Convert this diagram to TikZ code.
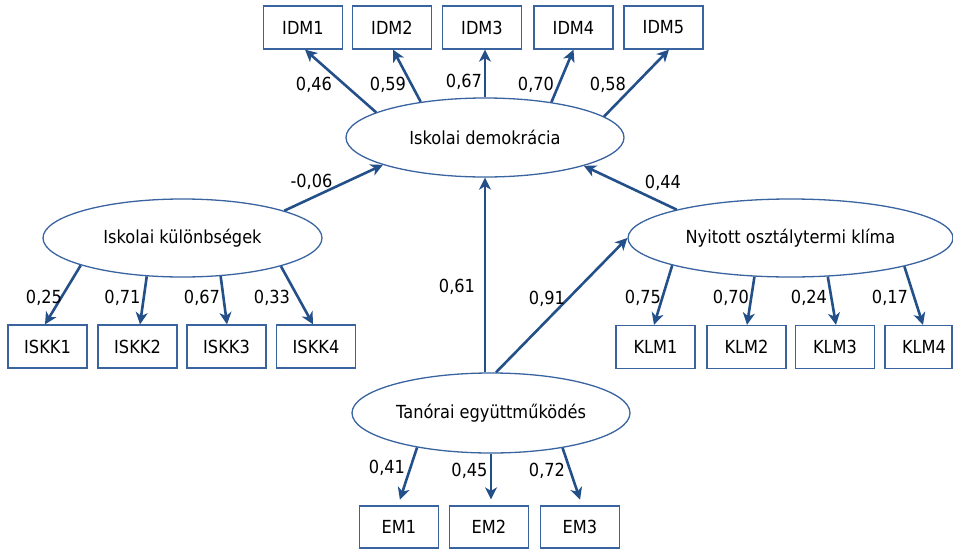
\documentclass[tikz,border=0pt]{standalone}
\usepackage{fontspec}
\setmainfont[FakeStretch=0.9]{DejaVu Sans}
\usetikzlibrary{arrows.meta,shapes.geometric}
\definecolor{arrblue}{HTML}{24508A}
\definecolor{boxblue}{HTML}{3A64A0}
\begin{document}
\begin{tikzpicture}[x=1pt,y=-1pt,
  font=\fontsize{18}{21}\selectfont,
  obsbox/.style={draw=boxblue,line width=1.3pt,minimum width=79pt,minimum height=43pt,inner sep=0pt,fill=white},
  latent/.style={ellipse,draw=boxblue,line width=1.3pt,inner sep=0pt,fill=white},
  path/.style={draw=arrblue,line width=2.6pt,-{Stealth[length=12pt,width=12pt,inset=3.5pt]}},
  coef/.style={inner sep=0pt,text height=13.1pt,text depth=0pt}]
\useasboundingbox (0,0) rectangle (953,549);

% latent variables
\node[latent,minimum width=278pt,minimum height=79pt] (idm) at (485,137.5) {Iskolai demokrácia};
\node[latent,minimum width=279pt,minimum height=78pt] (ik) at (182.5,238) {Iskolai különbségek};
\node[latent,minimum width=325pt,minimum height=78pt] (ny) at (790.5,238) {Nyitott osztálytermi klíma};
\node[latent,minimum width=278pt,minimum height=80pt] (tan) at (491,413) {Tanórai együttműködés};

% observed variables
\node[obsbox] (idm1) at (303,27.5) {IDM1};
\node[obsbox] (idm2) at (392,27.5) {IDM2};
\node[obsbox] (idm3) at (482,27.5) {IDM3};
\node[obsbox] (idm4) at (573.5,27.5) {IDM4};
\node[obsbox] (idm5) at (663.5,27.5) {IDM5};

\node[obsbox] (iskk1) at (47.5,346.5) {ISKK1};
\node[obsbox] (iskk2) at (137.5,346.5) {ISKK2};
\node[obsbox] (iskk3) at (226.5,346.5) {ISKK3};
\node[obsbox] (iskk4) at (316,346.5) {ISKK4};

\node[obsbox] (klm1) at (655.5,347) {KLM1};
\node[obsbox] (klm2) at (746.5,347) {KLM2};
\node[obsbox] (klm3) at (835,347) {KLM3};
\node[obsbox,minimum width=67pt] (klm4) at (918.5,347) {\hspace*{11pt}KLM4};

\node[obsbox,minimum height=42pt] (em1) at (399,527) {EM1};
\node[obsbox,minimum height=42pt] (em2) at (489,527) {EM2};
\node[obsbox,minimum height=42pt] (em3) at (580,527) {EM3};

% loadings: Iskolai demokrácia
\draw[path] (idm.167) -- ([xshift=2pt]idm1.south);
\draw[path] (idm.151) -- ([xshift=1pt]idm2.south);
\draw[path] (idm.north) -- (idm.north |- idm3.south);
\draw[path] (idm.28) -- (idm4.south);
\draw[path] (idm.10) -- ([xshift=5.5pt]idm5.south);

% loadings: Iskolai különbségek
\draw[path] (ik.195.3) -- ([xshift=-2.5pt]iskk1.north);
\draw[path] (ik.227.6) -- ([xshift=2.5pt]iskk2.north);
\draw[path] (ik.315) -- ([xshift=0.5pt]iskk3.north);
\draw[path] (ik.344.7) -- ([xshift=-3pt]iskk4.north);

% loadings: Nyitott osztálytermi klíma
\draw[path] (ny.193.6) -- ([xshift=-1.5pt]klm1.north);
\draw[path] (ny.227.8) -- ([xshift=0.5pt]klm2.north);
\draw[path] (ny.314.7) -- ([xshift=1pt]klm3.north);
\draw[path] (ny.346.7) -- ([xshift=4.5pt]klm4.north);

% loadings: Tanórai együttműködés
\draw[path,shorten >=6pt] (tan.205.4) -- ([xshift=-1pt]em1.north);
\draw[path,shorten >=6pt] (tan.south) -- (tan.south |- em2.north);
\draw[path,shorten >=6pt] (tan.334.2) -- ([xshift=2pt]em3.north);

% structural paths
\draw[path] (ik.15.3) -- (idm.195.3);
\draw[path] (ny.166.4) -- (idm.344.7);
\draw[path] (idm.south |- tan.north) -- (idm.south);
\draw[path] (tan.83) -- (ny.west);

% coefficients
\node[coef] (c1) at (314,84) {0,46};
\node[coef] (c2) at (388,84) {0,59};
\node[coef] (c3) at (464,81) {0,67};
\node[coef] (c4) at (536,84) {0,70};
\node[coef] (c5) at (608,84) {0,58};

\node[coef] (c6) at (44,297) {0,25};
\node[coef] (c7) at (122.5,297) {0,71};
\node[coef] (c8) at (202,297) {0,67};
\node[coef] (c9) at (272,297) {0,33};

\node[coef] (c10) at (643,297) {0,75};
\node[coef] (c11) at (731,297) {0,70};
\node[coef] (c12) at (809,297) {0,24};
\node[coef] (c13) at (890,297) {0,17};

\node[coef] (c14) at (387,467) {0,41};
\node[coef] (c15) at (469.5,470) {0,45};
\node[coef] (c16) at (547,470) {0,72};

\node[coef] (c17) at (311.5,181) {-0,06};
\node[coef] (c18) at (663,182) {0,44};
\node[coef] (c19) at (457,286) {0,61};
\node[coef] (c20) at (547,298) {0,91};
\end{tikzpicture}
\end{document}
